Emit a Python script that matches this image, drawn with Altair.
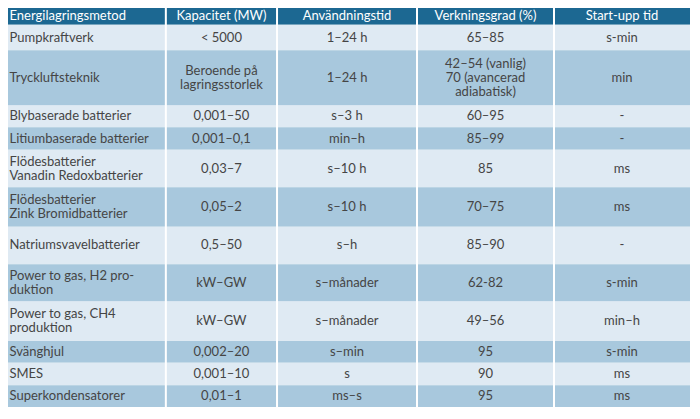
import altair as alt
import pandas as pd

# ---- table content ----
headers = ["Energilagringsmetod", "Kapacitet (MW)", "Användningstid",
           "Verkningsgrad (%)", "Start-upp tid"]
methods = ["Pumpkraftverk", "Tryckluftsteknik", "Blybaserade batterier",
           "Litiumbaserade batterier", "Flödesbatterier\nVanadin Redoxbatterier",
           "Flödesbatterier\nZink Bromidbatterier", "Natriumsvavelbatterier",
           "Power to gas, H2 pro-\nduktion", "Power to gas, CH4\nproduktion",
           "Svänghjul", "SMES", "Superkondensatorer"]
capacity = ["< 5000", "Beroende på\nlagringsstorlek", "0,001–50", "0,001–0,1",
            "0,03–7", "0,05–2", "0,5–50", "kW–GW", "kW–GW", "0,002–20",
            "0,001–10", "0,01–1"]
duration = ["1–24 h", "1–24 h", "s–3 h", "min–h", "s–10 h", "s–10 h", "s–h",
            "s–månader", "s–månader", "s–min", "s", "ms–s"]
efficiency = ["65–85", "42–54 (vanlig)\n70 (avancerad\nadiabatisk)", "60–95",
              "85–99", "85", "70–75", "85–90", "62-82", "49–56", "95", "90", "95"]
startup = ["s-min", "min", "-", "-", "ms", "ms", "-", "s-min", "min–h",
           "s-min", "ms", "ms"]

# ---- layout (reference pixel units) ----
col_edges = [3, 162, 274, 415, 553, 690]
row_edges = [2, 19, 45, 101, 123, 146, 184, 224, 262, 300, 340, 362, 385, 407]
W, H = 682, 399
LH = 14
lh_data = LH * (row_edges[-1] - row_edges[0]) / H

HEADER = "#1c6892"
DARK = "#a8c8dd"
PALE = "#dfeaf3"
TEXT = "#454545"

rows = [headers] + [list(r) for r in zip(methods, capacity, duration, efficiency, startup)]
cells = []
for r, row in enumerate(rows):
    fill = HEADER if r == 0 else (PALE if r % 2 == 1 else DARK)
    for c, txt in enumerate(row):
        x0, x1 = col_edges[c], col_edges[c + 1]
        y0, y1 = row_edges[r], row_edges[r + 1]
        n = txt.count("\n") + 1
        cells.append(dict(
            r=r, c=c, x0=x0, x1=x1, y0=y0, y1=y1, fill=fill, text=txt,
            tx=(x0 + 1.5) if c == 0 else (x0 + x1) / 2,
            ty=(y0 + y1) / 2 - (n - 1) * lh_data / 2,
            tcolor="white" if r == 0 else TEXT,
        ))
df = pd.DataFrame(cells)
seps = pd.DataFrame({"x": col_edges[1:-1], "ya": row_edges[0], "yb": row_edges[-1]})

xs = alt.Scale(domain=[col_edges[0], col_edges[-1]], nice=False, zero=False)
ys = alt.Scale(domain=[row_edges[0], row_edges[-1]], reverse=True, nice=False, zero=False)

base = alt.Chart(df)

rects = base.mark_rect(strokeWidth=0).encode(
    x=alt.X("x0:Q", scale=xs, axis=None),
    x2="x1:Q",
    y=alt.Y("y0:Q", scale=ys, axis=None),
    y2="y1:Q",
    color=alt.Color("fill:N", scale=None),
)

rules = alt.Chart(seps).mark_rule(color="white", strokeWidth=2).encode(
    x=alt.X("x:Q", scale=xs, axis=None),
    y=alt.Y("ya:Q", scale=ys, axis=None),
    y2="yb:Q",
)

FONT = "Lato"
FS = 13

left_text = base.transform_filter("datum.c == 0").mark_text(
    align="left", baseline="middle", font=FONT, fontSize=FS, lineBreak="\n", lineHeight=LH
).encode(
    x=alt.X("tx:Q", scale=xs, axis=None),
    y=alt.Y("ty:Q", scale=ys, axis=None),
    text="text:N",
    color=alt.Color("tcolor:N", scale=None),
)

center_text = base.transform_filter("datum.c > 0").mark_text(
    align="center", baseline="middle", font=FONT, fontSize=FS, lineBreak="\n", lineHeight=LH
).encode(
    x=alt.X("tx:Q", scale=xs, axis=None),
    y=alt.Y("ty:Q", scale=ys, axis=None),
    text="text:N",
    color=alt.Color("tcolor:N", scale=None),
)

chart = alt.layer(rects, rules, left_text, center_text).properties(
    width=W, height=H, padding=0, autosize="none", background="white"
).configure_view(strokeWidth=0)

chart.save("out.html", embed_options={"renderer": "svg", "actions": False})
